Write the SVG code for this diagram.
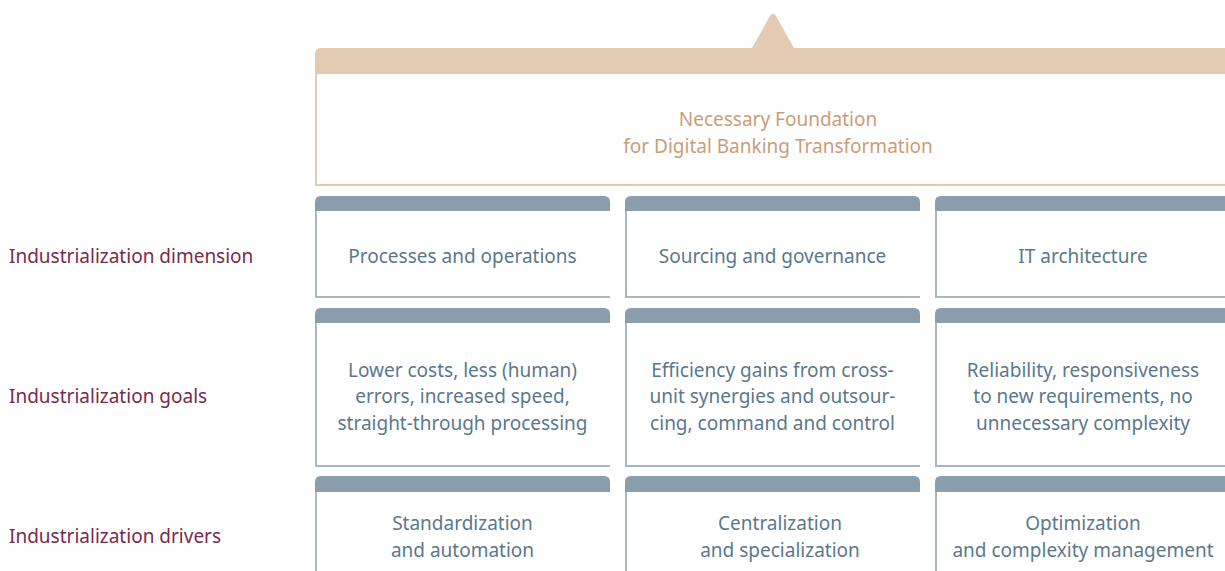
<svg xmlns="http://www.w3.org/2000/svg" width="1225" height="571" viewBox="0 0 1225 571">
  <style>
    .lbl { font-family: "Noto Sans", "Liberation Sans", sans-serif; font-size: 19px; fill: #7a2a4c; }
    .txt { font-family: "Noto Sans", "Liberation Sans", sans-serif; font-size: 19px; fill: #5b788c; text-anchor: middle; }
    .top-txt { font-family: "Noto Sans", "Liberation Sans", sans-serif; font-size: 19px; fill: #c99d7a; text-anchor: middle; }
    .hdr { fill: #8a9eac; }
    .edge { fill: none; stroke: #a9b7c1; stroke-width: 2; }
    .top-hdr { fill: #e2cab3; }
    .top-edge { fill: none; stroke: #e2cab3; stroke-width: 2; }
  </style>

  <!-- row labels -->
  <g id="row-labels">
    <text class="lbl" x="9" y="263">Industrialization dimension</text>
    <text class="lbl" x="9" y="403">Industrialization goals</text>
    <text class="lbl" x="9" y="543">Industrialization drivers</text>
  </g>

  <!-- foundation banner -->
  <g id="foundation">
    <path class="top-hdr" d="M315 74 V54 Q315 48 321 48 H752 L770 16 Q773 11 776 16 L794 48 H1225 V74 Z"/>
    <path class="top-edge" d="M316 74 V185 H1225"/>
    <text class="top-txt" x="778" y="126">Necessary Foundation</text>
    <text class="top-txt" x="778" y="152.5">for Digital Banking Transformation</text>
  </g>

  <!-- row 1: dimensions -->
  <g id="dim-processes">
    <path class="hdr" d="M315 211 V202 Q315 196 321 196 H604 Q610 196 610 202 V211 Z"/>
    <path class="edge" d="M316 211 V297 H610"/>
    <text class="txt" x="462.5" y="263">Processes and operations</text>
  </g>
  <g id="dim-sourcing">
    <path class="hdr" d="M625 211 V202 Q625 196 631 196 H914 Q920 196 920 202 V211 Z"/>
    <path class="edge" d="M626 211 V297 H920"/>
    <text class="txt" x="772.5" y="263">Sourcing and governance</text>
  </g>
  <g id="dim-it">
    <path class="hdr" d="M935 211 V202 Q935 196 941 196 H1225 V211 Z"/>
    <path class="edge" d="M936 211 V297 H1225"/>
    <text class="txt" x="1083" y="263">IT architecture</text>
  </g>

  <!-- row 2: goals -->
  <g id="goal-processes">
    <path class="hdr" d="M315 323 V314 Q315 308 321 308 H604 Q610 308 610 314 V323 Z"/>
    <path class="edge" d="M316 323 V466 H610"/>
    <text class="txt" x="462.5" y="376.5">Lower costs, less (human)</text>
    <text class="txt" x="462.5" y="403">errors, increased speed,</text>
    <text class="txt" x="462.5" y="429.5">straight-through processing</text>
  </g>
  <g id="goal-sourcing">
    <path class="hdr" d="M625 323 V314 Q625 308 631 308 H914 Q920 308 920 314 V323 Z"/>
    <path class="edge" d="M626 323 V466 H920"/>
    <text class="txt" x="772.5" y="376.5">Efficiency gains from cross-</text>
    <text class="txt" x="772.5" y="403">unit synergies and outsour-</text>
    <text class="txt" x="772.5" y="429.5">cing, command and control</text>
  </g>
  <g id="goal-it">
    <path class="hdr" d="M935 323 V314 Q935 308 941 308 H1225 V323 Z"/>
    <path class="edge" d="M936 323 V466 H1225"/>
    <text class="txt" x="1083" y="376.5">Reliability, responsiveness</text>
    <text class="txt" x="1083" y="403">to new requirements, no</text>
    <text class="txt" x="1083" y="429.5">unnecessary complexity</text>
  </g>

  <!-- row 3: drivers -->
  <g id="driver-processes">
    <path class="hdr" d="M315 492 V482 Q315 476 321 476 H604 Q610 476 610 482 V492 Z"/>
    <path class="edge" d="M316 492 V571"/>
    <text class="txt" x="462.5" y="530">Standardization</text>
    <text class="txt" x="462.5" y="556.5">and automation</text>
  </g>
  <g id="driver-sourcing">
    <path class="hdr" d="M625 492 V482 Q625 476 631 476 H914 Q920 476 920 482 V492 Z"/>
    <path class="edge" d="M626 492 V571"/>
    <text class="txt" x="780" y="530">Centralization</text>
    <text class="txt" x="780" y="556.5">and specialization</text>
  </g>
  <g id="driver-it">
    <path class="hdr" d="M935 492 V482 Q935 476 941 476 H1225 V492 Z"/>
    <path class="edge" d="M936 492 V571"/>
    <text class="txt" x="1083" y="530">Optimization</text>
    <text class="txt" x="1083" y="556.5">and complexity management</text>
  </g>

  <g id="connectors"></g>
</svg>
